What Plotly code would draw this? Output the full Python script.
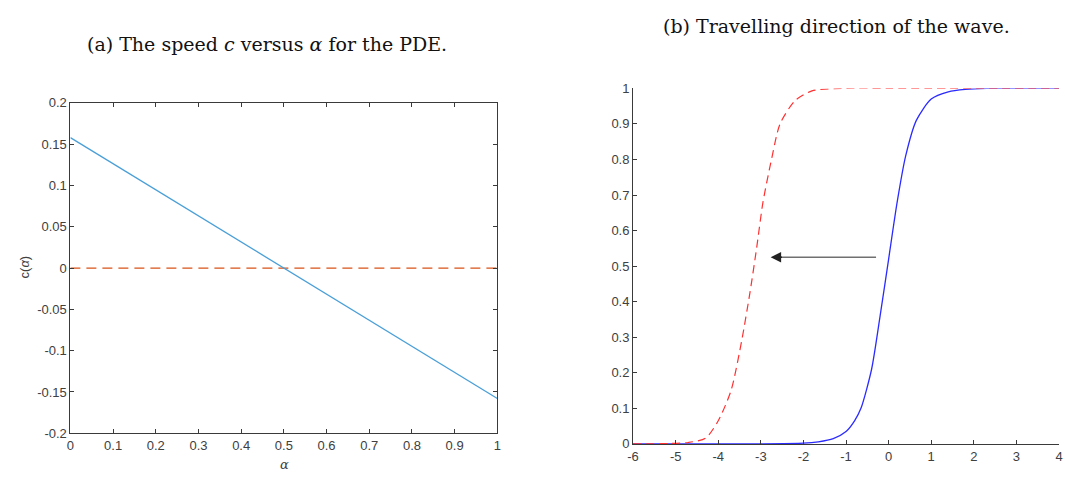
import plotly.graph_objects as go

W, H = 1065, 480


def px(x):
    return x / W


def py(y):
    return 1 - y / H


# ---- panel (a) data ----
alpha = [0.0, 1.0]
speed = [0.158, -0.158]
zero_line = [0.0, 0.0]
a_xticks = [0, 0.1, 0.2, 0.3, 0.4, 0.5, 0.6, 0.7, 0.8, 0.9, 1]
a_xticklabels = ["0", "0.1", "0.2", "0.3", "0.4", "0.5", "0.6", "0.7", "0.8", "0.9", "1"]
a_yticks = [0.2, 0.15, 0.1, 0.05, 0, -0.05, -0.1, -0.15, -0.2]
a_yticklabels = ["0.2", "0.15", "0.1", "0.05", "0", "-0.05", "-0.1", "-0.15", "-0.2"]

# ---- panel (b) data ----
blue_x = [-6, -3, -2, -1.65, -1.3, -1.0, -0.8, -0.65, -0.4, -0.2, 0.0, 0.2, 0.4, 0.65, 1.0, 1.4, 1.8, 2.3, 3, 4]
blue_y = [0, 0, 0.002, 0.006, 0.015, 0.035, 0.065, 0.10, 0.21, 0.36, 0.52, 0.68, 0.81, 0.91, 0.97, 0.99, 0.997, 1.0, 1.0, 1.0]
red_x = [-6, -5.2, -4.7, -4.3, -4.0, -3.7, -3.45, -3.25, -3.1, -2.95, -2.75, -2.55, -2.2, -1.8, -1.0, 0, 4]
red_y = [0, 0.001, 0.004, 0.016, 0.065, 0.15, 0.29, 0.43, 0.55, 0.68, 0.80, 0.90, 0.965, 0.993, 1.0, 1.0, 1.0]
arrow_tail = (-0.26, 0.525)
arrow_head = (-2.77, 0.525)
b_xticks = [-6, -5, -4, -3, -2, -1, 0, 1, 2, 3, 4]
b_xticklabels = ["-6", "-5", "-4", "-3", "-2", "-1", "0", "1", "2", "3", "4"]
b_yticks = [0, 0.1, 0.2, 0.3, 0.4, 0.5, 0.6, 0.7, 0.8, 0.9, 1]
b_yticklabels = ["0", "0.1", "0.2", "0.3", "0.4", "0.5", "0.6", "0.7", "0.8", "0.9", "1"]

AX = "#3a3a3a"
TICKFONT = dict(family="Liberation Sans, Arial, sans-serif", size=13, color="#404040")
SERIF = "DejaVu Serif, Liberation Serif, serif"

fig = go.Figure()

fig.add_trace(go.Scatter(x=alpha, y=zero_line, mode="lines",
                         line=dict(color="#D95319", width=1.2, dash="10px,6px"),
                         xaxis="x", yaxis="y", showlegend=False, hoverinfo="skip"))
fig.add_trace(go.Scatter(x=alpha, y=speed, mode="lines",
                         line=dict(color="#4a9fd8", width=1.3),
                         xaxis="x", yaxis="y", showlegend=False, hoverinfo="skip"))

fig.add_trace(go.Scatter(x=blue_x, y=blue_y, mode="lines",
                         line=dict(color="#2b2bff", width=1.3, shape="spline", smoothing=0.7),
                         xaxis="x2", yaxis="y2", showlegend=False, hoverinfo="skip"))
fig.add_trace(go.Scatter(x=red_x, y=red_y, mode="lines",
                         line=dict(color="#ff3030", width=1.2, dash="8px,5px", shape="spline", smoothing=0.7),
                         xaxis="x2", yaxis="y2", showlegend=False, hoverinfo="skip"))

common = dict(showgrid=False, zeroline=False, ticks="inside", ticklen=4, tickwidth=1,
              tickcolor=AX, linecolor=AX, linewidth=1, showline=True, tickfont=TICKFONT)

fig.update_layout(
    width=W, height=H,
    margin=dict(l=0, r=0, t=0, b=0),
    paper_bgcolor="white", plot_bgcolor="white",
    xaxis=dict(domain=[px(65), px(496)], range=[0, 1], tickmode="array",
               tickvals=a_xticks, ticktext=a_xticklabels, mirror="ticks", anchor="y", **common),
    yaxis=dict(domain=[py(440), py(99)], range=[-0.2, 0.2], tickmode="array",
               tickvals=a_yticks, ticktext=a_yticklabels, mirror="ticks", anchor="x", **common),
    xaxis2=dict(domain=[px(633), px(1063)], range=[-6, 4], tickmode="array",
                tickvals=b_xticks, ticktext=b_xticklabels, anchor="y2", **common),
    yaxis2=dict(domain=[py(451), py(84)], range=[0, 1], tickmode="array",
                tickvals=b_yticks, ticktext=b_yticklabels, anchor="x2", **common),
)

annotations = [
    dict(text="(a) The speed <i>c</i> versus <i>α</i> for the PDE.", x=px(263), y=py(38),
         xref="paper", yref="paper", showarrow=False, xanchor="center", yanchor="middle",
         font=dict(family=SERIF, size=19, color="#111111")),
    dict(text="(b) Travelling direction of the wave.", x=px(838), y=py(20),
         xref="paper", yref="paper", showarrow=False, xanchor="center", yanchor="middle",
         font=dict(family=SERIF, size=19, color="#111111")),
    dict(text="<i>α</i>", x=px(281), y=py(472), xref="paper", yref="paper",
         showarrow=False, xanchor="center", yanchor="middle",
         font=dict(family=SERIF, size=13, color="#404040")),
    dict(text="c(<i>α</i>)", x=px(19), y=py(268), xref="paper", yref="paper",
         showarrow=False, xanchor="center", yanchor="middle", textangle=-90,
         font=dict(family="Liberation Sans, Arial, sans-serif", size=13, color="#404040")),
    # arrow shaft (grey)
    dict(x=arrow_head[0] + 0.15, y=arrow_head[1], ax=arrow_tail[0], ay=arrow_tail[1],
         xref="x2", yref="y2", axref="x2", ayref="y2", text="", showarrow=True,
         arrowhead=0, arrowwidth=1.4, arrowcolor="#707070"),
    # arrow head (near black)
    dict(x=arrow_head[0], y=arrow_head[1], ax=arrow_head[0] + 0.3, ay=arrow_head[1],
         xref="x2", yref="y2", axref="x2", ayref="y2", text="", showarrow=True,
         arrowhead=2, arrowsize=1.5, arrowwidth=1.4, arrowcolor="#222222"),
]
fig.update_layout(annotations=annotations)

fig.write_html("out.html",
               config={"displayModeBar": False},
               post_script="document.body.style.margin='0px';document.body.style.overflow='hidden';")
